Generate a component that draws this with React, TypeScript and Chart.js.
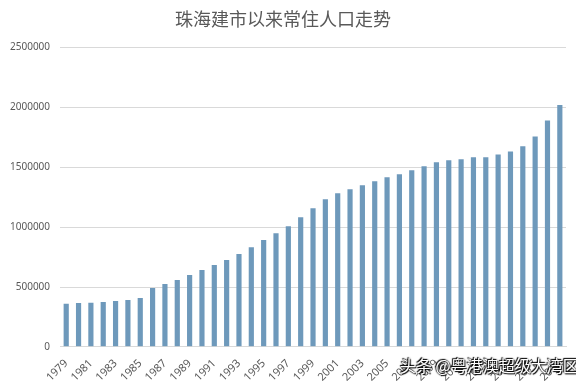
import React, { useEffect, useRef } from "react";
import { Chart, registerables } from "chart.js";

Chart.register(...registerables);

const TITLE = "珠海建市以来常住人口走势";
const WATERMARK = "头条 @粤港澳超级大湾区";

const years: string[] = [
  "1979", "1980", "1981", "1982", "1983", "1984", "1985", "1986", "1987", "1988",
  "1989", "1990", "1991", "1992", "1993", "1994", "1995", "1996", "1997", "1998",
  "1999", "2000", "2001", "2002", "2003", "2004", "2005", "2006", "2007", "2008",
  "2009", "2010", "2011", "2012", "2013", "2014", "2015", "2016", "2017", "2018",
  "2019",
];

const population: number[] = [
  360000, 366000, 368000, 375000, 383000, 392000, 408000, 492000, 525000, 558000,
  600000, 642000, 683000, 725000, 775000, 833000, 892000, 950000, 1008000, 1083000,
  1158000, 1233000, 1283000, 1317000, 1350000, 1383000, 1417000, 1442000, 1475000, 1508000,
  1542000, 1558000, 1567000, 1583000, 1583000, 1608000, 1633000, 1675000, 1758000, 1892000,
  2020000,
];

const yTicks: number[] = [0, 500000, 1000000, 1500000, 2000000, 2500000];

export default function App() {
  const ref = useRef<HTMLCanvasElement | null>(null);

  useEffect(() => {
    document.body.style.margin = "0";
    const canvas = ref.current;
    if (!canvas) return;
    const chart = new Chart(canvas, {
      type: "bar",
      data: {
        labels: years,
        datasets: [
          {
            data: population,
            backgroundColor: "#6e99bb",
            barPercentage: 0.42,
            categoryPercentage: 1,
          },
        ],
      },
      options: {
        animation: false,
        responsive: false,
        maintainAspectRatio: false,
        layout: { padding: { left: 0, right: 10, top: 8, bottom: 0 } },
        plugins: {
          legend: { display: false },
          tooltip: { enabled: false },
          title: {
            display: true,
            text: TITLE,
            color: "#595959",
            font: { family: "'Noto Sans CJK SC', sans-serif", size: 18, weight: "normal" },
            padding: { top: 0, bottom: 18 },
          },
        },
        scales: {
          x: {
            grid: { display: false },
            border: { display: true, color: "#d9d9d9" },
            ticks: {
              autoSkip: false,
              maxRotation: 45,
              minRotation: 45,
              padding: 2,
              color: "#595959",
              font: { family: "'Noto Sans', sans-serif", size: 11 },
              callback: (_v: any, i: number) => (i % 2 === 0 ? years[i] : ""),
            },
          },
          y: {
            min: 0,
            max: 2500000,
            afterBuildTicks: (axis: any) => {
              axis.ticks = yTicks.map((v) => ({ value: v }));
            },
            grid: { color: "#d9d9d9", drawTicks: false },
            border: { display: false },
            ticks: {
              padding: 10,
              color: "#595959",
              font: { family: "'Noto Sans', sans-serif", size: 10 },
              callback: (v: any) => String(v),
            },
          },
        },
      },
    });
    return () => chart.destroy();
  }, []);

  return (
    <div style={{ position: "relative", width: 576, height: 386, background: "#fff" }}>
      <canvas ref={ref} width={576} height={386} style={{ display: "block" }} />
      <div
        style={{
          position: "absolute",
          left: 400,
          top: 353,
          fontFamily: "'Noto Sans CJK SC', sans-serif",
          fontSize: 16,
          color: "#ffffff",
          textShadow: "0 0 2px #000, 1px 1px 1px #000, -1px -1px 1px #000",
          whiteSpace: "nowrap",
        }}
      >
        {WATERMARK}
      </div>
    </div>
  );
}
